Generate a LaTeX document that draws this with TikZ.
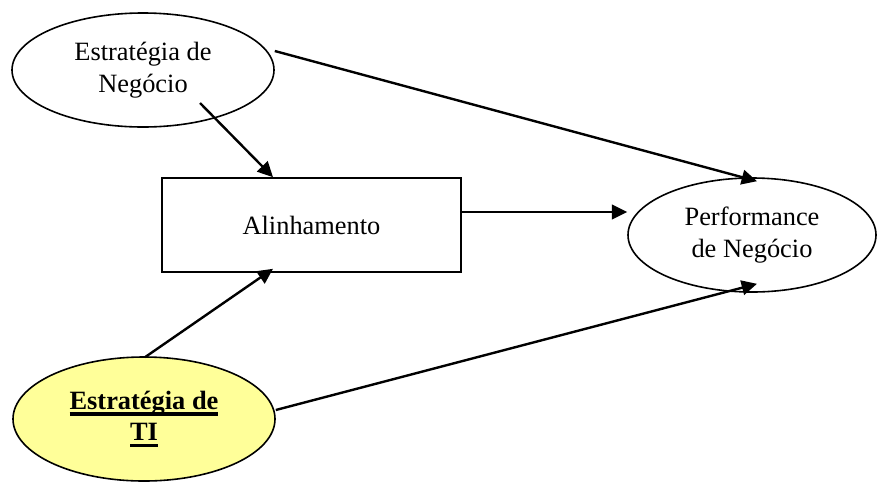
\documentclass[tikz,border=0pt]{standalone}
\usepackage{fontspec}
\setmainfont{Liberation Serif}
\usetikzlibrary{shapes.geometric,arrows.meta}

% thick underline as in the reference
\newcommand{\thickul}[1]{\setbox0\hbox{#1}\rlap{\vrule height -2pt depth 4.8pt width\wd0}\box0}

\tikzset{
	oval/.style={ellipse, draw=black, line width=1.2pt, inner sep=0pt, align=center, minimum width=196.5pt, minimum height=85.5pt},
	box/.style={rectangle, draw=black, line width=1.2pt, inner sep=0pt, align=center, minimum width=224pt, minimum height=70.5pt},
	link/.style={line width=1.8pt, -{Triangle[length=11.5pt,width=11pt]}}
}

\begin{document}
\begin{tikzpicture}[x=0.75pt, y=-0.75pt, font=\fontsize{19.8}{23.8}\selectfont]
		\useasboundingbox (0,0) rectangle (877,483);
		\node[oval] (estneg) at (143,70){Estratégia de\\Negócio};
		\node[box] (alin) at (311.5,225){Alinhamento};
		\node[oval, minimum width=186pt] (perf) at (752,235){Performance\\de Negócio};
		\node[oval, fill={rgb,255:red,255;green,255;blue,153}, minimum height=93pt, font=\fontsize{19.8}{23.8}\selectfont\bfseries] (estti) at (144,419){\thickul{Estratégia de}\\\thickul{TI}};
		\draw[link] ([shift={(57,33)}]estneg.center) -- ([shift={(-38.5,0)}]alin.north);
		\draw[link] ([shift={(0,-19)}]estneg.east) -- ([shift={(5,4)}]perf.north);
		\draw[link] ([shift={(0,-13)}]alin.east) -- ([shift={(0,-23)}]perf.west);
		\draw[link] ([shift={(1,1)}]estti.north) -- ([shift={(-38.5,-4)}]alin.south);
		\draw[link] ([shift={(0,-9)}]estti.east) -- ([shift={(5,-9)}]perf.south);
		\end{tikzpicture}
\end{document}
